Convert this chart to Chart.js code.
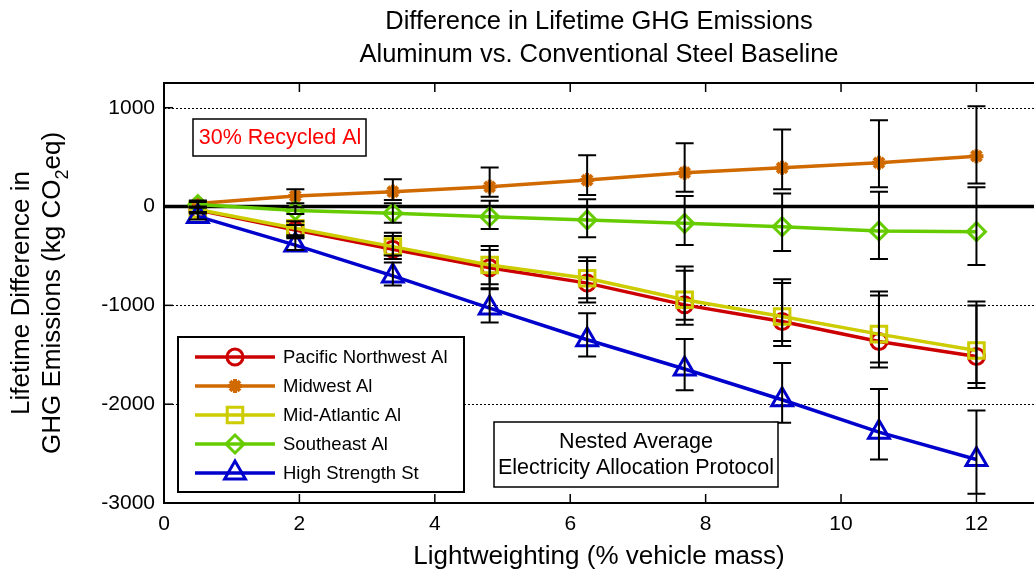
<!DOCTYPE html>
<html>
<head>
<meta charset="utf-8">
<script src="https://cdn.jsdelivr.net/npm/chart.js@4.4.1/dist/chart.umd.min.js"></script>
<style>
 html, body { margin: 0; padding: 0; background: #fff; }
 #wrap { width: 1034px; height: 578px; }
</style>
</head>
<body>
<div id="wrap"><canvas id="ghgChart" width="1034" height="578"></canvas></div>
<script>
var FONT = "'Liberation Sans', Arial, sans-serif";

// x positions (% vehicle mass) and axis ticks
var lightweighting = [0.5, 1.94, 3.38, 4.81, 6.25, 7.69, 9.13, 10.56, 12];
var xTickValues = [0, 2, 4, 6, 8, 10, 12];
var yTickValues = [-3000, -2000, -1000, 0, 1000];

// series values (kg CO2eq) with lower / upper error bar ends
var pacificNW = [-35, -237, -432, -620, -775, -995, -1163, -1365, -1517];
var pacificNWLow = [-60, -320, -530, -826, -972, -1197, -1412, -1628, -1836];
var pacificNWHigh = [-10, -188, -298, -439, -551, -650, -775, -901, -1002];

var midwest = [30, 106, 150, 200, 268, 342, 392, 443, 510];
var midwestLow = [0, 32, 66, 99, 116, 150, 174, 194, 234];
var midwestHigh = [60, 174, 275, 395, 520, 640, 780, 874, 1015];

var midAtlantic = [-30, -220, -406, -591, -725, -944, -1113, -1291, -1457];
var midAtlanticLow = [-55, -290, -495, -786, -927, -1146, -1361, -1578, -1786];
var midAtlanticHigh = [-5, -148, -265, -399, -513, -606, -735, -860, -962];

var southeast = [20, -40, -68, -103, -136, -170, -204, -247, -254];
var southeastLow = [-10, -76, -164, -227, -311, -389, -449, -530, -591];
var southeastHigh = [45, -8, 32, 59, 73, 106, 133, 150, 194];

var highStrength = [-100, -390, -702, -1028, -1348, -1644, -1955, -2283, -2560];
var highStrengthLow = [-130, -440, -798, -1173, -1517, -1860, -2189, -2560, -2907];
var highStrengthHigh = [-70, -309, -567, -836, -1079, -1341, -1584, -1846, -2063];

var seriesLabels = ["Pacific Northwest Al", "Midwest Al", "Mid-Atlantic Al", "Southeast Al", "High Strength St"];
var titleLines = ["Difference in Lifetime GHG Emissions", "Aluminum vs. Conventional Steel Baseline"];

function toPoints(values) {
 return values.map(function (v, i) {
  return { x: lightweighting[i], y: v };
 });
}

function makeDataset(label, values, low, high, color, style, radius, order) {
 return {
  label: label,
  data: toPoints(values),
  errLow: low,
  errHigh: high,
  borderColor: color,
  backgroundColor: color,
  borderWidth: 3.5,
  pointStyle: style,
  pointRadius: radius,
  pointHoverRadius: radius,
  pointBorderWidth: style === "star" ? 4 : 3,
  pointBorderColor: color,
  pointBackgroundColor: style === "star" ? color : "rgba(0,0,0,0)",
  tension: 0,
  fill: false,
  order: order,
 };
}

var datasets = [
 makeDataset(seriesLabels[0], pacificNW, pacificNWLow, pacificNWHigh, "#cc0000", "circle", 8, 5),
 makeDataset(seriesLabels[1], midwest, midwestLow, midwestHigh, "#d06a00", "star", 7, 4),
 makeDataset(seriesLabels[2], midAtlantic, midAtlanticLow, midAtlanticHigh, "#cccc00", "rect", 11, 3),
 makeDataset(seriesLabels[3], southeast, southeastLow, southeastHigh, "#66cc00", "rectRot", 9, 2),
 makeDataset(seriesLabels[4], highStrength, highStrengthLow, highStrengthHigh, "#0000cc", "triangle", 12, 1),
];

// dotted grid, zero line, axes box and inward ticks
var framePlugin = {
 id: "frame",
 beforeDatasetsDraw: function (chart) {
  var ctx = chart.ctx;
  var area = chart.chartArea;
  var xs = chart.scales.x;
  var ys = chart.scales.y;
  ctx.save();
  ctx.strokeStyle = "#000";
  ctx.lineWidth = 1;
  ctx.setLineDash([2, 2]);
  yTickValues.forEach(function (v) {
   if (v === 0 || v === ys.min) return;
   var py = Math.round(ys.getPixelForValue(v)) + 0.5;
   ctx.beginPath();
   ctx.moveTo(area.left, py);
   ctx.lineTo(area.right, py);
   ctx.stroke();
  });
  ctx.setLineDash([]);

  // thick baseline at zero
  var zy = ys.getPixelForValue(0);
  ctx.lineWidth = 3.5;
  ctx.beginPath();
  ctx.moveTo(area.left, zy);
  ctx.lineTo(area.right, zy);
  ctx.stroke();

  ctx.lineWidth = 2;
  ctx.beginPath();
  ctx.moveTo(area.right, area.top);
  ctx.lineTo(area.left, area.top);
  ctx.lineTo(area.left, area.bottom);
  ctx.lineTo(area.right, area.bottom);
  ctx.stroke();

  ctx.lineWidth = 1.5;
  xTickValues.forEach(function (v) {
   var px = xs.getPixelForValue(v);
   ctx.beginPath();
   ctx.moveTo(px, area.bottom);
   ctx.lineTo(px, area.bottom - 9);
   ctx.moveTo(px, area.top);
   ctx.lineTo(px, area.top + 9);
   ctx.stroke();
  });
  yTickValues.forEach(function (v) {
   var py = ys.getPixelForValue(v);
   ctx.beginPath();
   ctx.moveTo(area.left, py);
   ctx.lineTo(area.left + 9, py);
   ctx.stroke();
  });
  ctx.restore();
 },
};

function drawMarker(ctx, ds, x, y) {
 ctx.strokeStyle = ds.pointBorderColor;
 ctx.fillStyle = ds.pointBackgroundColor;
 ctx.lineWidth = ds.pointBorderWidth;
 Chart.helpers.drawPoint(ctx, {
  pointStyle: ds.pointStyle,
  radius: ds.pointRadius,
  borderWidth: ds.pointBorderWidth,
  rotation: 0,
 }, x, y);
}

// error bars, legend and text boxes on top of the series
var overlayPlugin = {
 id: "overlay",
 afterDatasetsDraw: function (chart) {
  var ctx = chart.ctx;
  var xs = chart.scales.x;
  var ys = chart.scales.y;
  ctx.save();
  ctx.strokeStyle = "#000";
  ctx.lineWidth = 2;
  chart.data.datasets.forEach(function (ds) {
   ds.data.forEach(function (p, i) {
    var px = xs.getPixelForValue(p.x);
    var yLo = ys.getPixelForValue(ds.errLow[i]);
    var yHi = ys.getPixelForValue(ds.errHigh[i]);
    ctx.beginPath();
    ctx.moveTo(px, yLo);
    ctx.lineTo(px, yHi);
    ctx.moveTo(px - 9, yLo);
    ctx.lineTo(px + 9, yLo);
    ctx.moveTo(px - 9, yHi);
    ctx.lineTo(px + 9, yHi);
    ctx.stroke();
   });
  });

  // "30% Recycled Al" box
  ctx.fillStyle = "#fff";
  ctx.fillRect(193, 119, 173, 37);
  ctx.lineWidth = 1.5;
  ctx.strokeRect(193, 119, 173, 37);
  ctx.fillStyle = "#ff0000";
  ctx.font = "21.5px " + FONT;
  ctx.textAlign = "center";
  ctx.textBaseline = "middle";
  ctx.fillText("30% Recycled Al", 280, 138);

  // protocol box
  ctx.fillStyle = "#fff";
  ctx.fillRect(494, 422, 284, 65);
  ctx.strokeStyle = "#000";
  ctx.strokeRect(494, 422, 284, 65);
  ctx.fillStyle = "#000";
  ctx.font = "21.5px " + FONT;
  ctx.fillText("Nested Average", 636, 442);
  ctx.fillText("Electricity Allocation Protocol", 636, 468);

  // legend
  ctx.fillStyle = "#fff";
  ctx.fillRect(178, 337, 286, 155);
  ctx.lineWidth = 2;
  ctx.strokeRect(178, 337, 286, 155);
  ctx.font = "18.5px " + FONT;
  ctx.textAlign = "left";
  chart.data.datasets.forEach(function (ds, i) {
   var ry = 357 + i * 29;
   ctx.strokeStyle = ds.borderColor;
   ctx.lineWidth = ds.borderWidth;
   ctx.beginPath();
   ctx.moveTo(195, ry);
   ctx.lineTo(275, ry);
   ctx.stroke();
   drawMarker(ctx, ds, 235, ry);
   ctx.fillStyle = "#000";
   ctx.fillText(ds.label, 283, ry + 1);
  });

  ctx.restore();
 },
 afterDraw: function (chart) {
  var ctx = chart.ctx;
  var area = chart.chartArea;
  var cx = (area.left + area.right) / 2;
  var cy = (area.top + area.bottom) / 2;
  ctx.save();
  ctx.fillStyle = "#000";
  ctx.textBaseline = "middle";
  ctx.textAlign = "center";

  // chart title, centred over the plot area
  ctx.font = "25.5px " + FONT;
  ctx.fillText(titleLines[0], cx, 22);
  ctx.fillText(titleLines[1], cx, 55);

  // y axis title with subscript
  ctx.translate(22, cy);
  ctx.rotate(-Math.PI / 2);
  ctx.font = "26px " + FONT;
  ctx.fillText("Lifetime Difference in", 0, 0);
  var partA = "GHG Emissions (kg CO";
  var partB = "2";
  var partC = "eq)";
  var wA = ctx.measureText(partA).width;
  var wC = ctx.measureText(partC).width;
  ctx.font = "18px " + FONT;
  var wB = ctx.measureText(partB).width;
  var start = -(wA + wB + wC) / 2;
  ctx.textAlign = "left";
  ctx.font = "26px " + FONT;
  ctx.fillText(partA, start, 31);
  ctx.font = "18px " + FONT;
  ctx.fillText(partB, start + wA, 41);
  ctx.font = "26px " + FONT;
  ctx.fillText(partC, start + wA + wB, 31);
  ctx.restore();
 },
};

Chart.defaults.color = "#000";
Chart.defaults.font.family = FONT;

new Chart(document.getElementById("ghgChart"), {
 type: "line",
 data: { datasets: datasets },
 options: {
  responsive: false,
  devicePixelRatio: 1,
  animation: false,
  layout: { autoPadding: false, padding: { left: 0, right: 0, top: 83, bottom: 0 } },
  plugins: {
   legend: { display: false },
   tooltip: { enabled: false },
   title: { display: false },
  },
  scales: {
   x: {
    type: "linear",
    min: 0,
    max: 12.85,
    afterBuildTicks: function (scale) {
     scale.ticks = xTickValues.map(function (v) { return { value: v }; });
    },
    afterFit: function (scale) {
     scale.height = 75;
     scale.paddingLeft = 0;
     scale.paddingRight = 0;
    },
    grid: { display: false, drawTicks: false },
    border: { display: false },
    ticks: { font: { size: 21 }, padding: 9, maxRotation: 0 },
    title: {
     display: true,
     text: "Lightweighting (% vehicle mass)",
     font: { size: 26 },
     padding: { top: 0, bottom: 6 },
    },
   },
   y: {
    type: "linear",
    min: -3000,
    max: 1250,
    afterBuildTicks: function (scale) {
     scale.ticks = yTickValues.map(function (v) { return { value: v }; });
    },
    afterFit: function (scale) {
     scale.width = 164;
     scale.paddingTop = 0;
     scale.paddingBottom = 0;
    },
    grid: { display: false, drawTicks: false },
    border: { display: false },
    ticks: {
     font: { size: 21 },
     padding: 9,
     callback: function (value) { return String(value); },
    },
   },
  },
 },
 plugins: [framePlugin, overlayPlugin],
});
</script>
</body>
</html>
